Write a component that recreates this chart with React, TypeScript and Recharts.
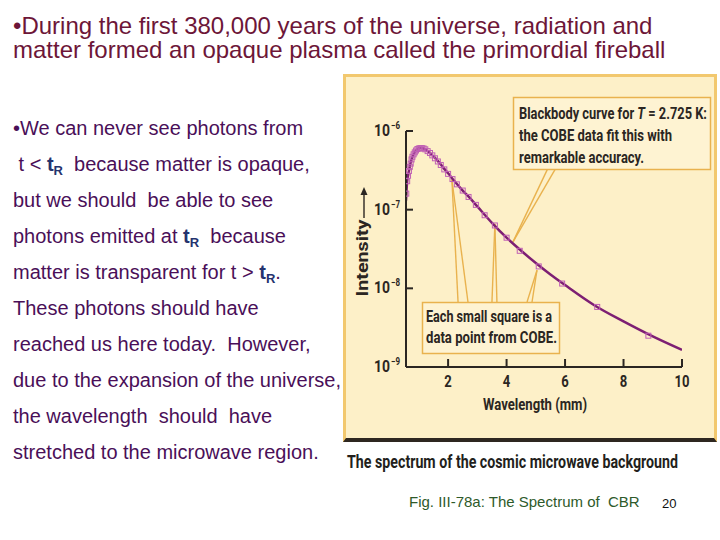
import React from "react";
import { ComposedChart, Line, Scatter, XAxis, YAxis, ReferenceLine } from "recharts";

// blackbody fit curve (wavelength in mm, intensity)
const curveMm = [0.56, 0.58, 0.6, 0.63, 0.66, 0.7, 0.75, 0.8, 0.85, 0.9, 0.95, 1.0, 1.05, 1.1, 1.16, 1.22, 1.3, 1.4, 1.5, 1.6, 1.75, 1.9, 2.0, 2.2, 2.5, 2.75, 3.0, 3.5, 4.0, 4.5, 5.0, 5.5, 6.0, 7.0, 8.0, 9.0, 10.0];
const curveIntensity = [1.3e-7, 1.8e-7, 2.3e-7, 2.7e-7, 3.1e-7, 3.7e-7, 4.35e-7, 4.9e-7, 5.3e-7, 5.65e-7, 5.9e-7, 6.0e-7, 6.06e-7, 6.07e-7, 6.0e-7, 5.85e-7, 5.55e-7, 5.15e-7, 4.75e-7, 4.35e-7, 3.75e-7, 3.2e-7, 2.9e-7, 2.35e-7, 1.75e-7, 1.4e-7, 1.1e-7, 6.8e-8, 4.4e-8, 3.0e-8, 2.1e-8, 1.5e-8, 1.1e-8, 6.1e-9, 3.8e-9, 2.45e-9, 1.65e-9];

// COBE measurements (small squares)
const cobeMm = [0.57, 0.6, 0.63, 0.66, 0.69, 0.72, 0.75, 0.78, 0.82, 0.86, 0.9, 0.95, 1.0, 1.05, 1.1, 1.16, 1.22, 1.3, 1.38, 1.46, 1.55, 1.65, 1.75, 1.87, 2.0, 2.15, 2.3, 2.5, 2.7, 2.95, 3.25, 3.6, 4.0, 4.45, 5.1, 5.9, 7.1, 8.85];
const cobeIntensity = [1.6e-7, 2.3e-7, 2.7e-7, 3.1e-7, 3.5e-7, 3.85e-7, 4.35e-7, 4.7e-7, 5.05e-7, 5.35e-7, 5.65e-7, 5.9e-7, 6.0e-7, 6.06e-7, 6.07e-7, 6.0e-7, 5.85e-7, 5.55e-7, 5.25e-7, 4.9e-7, 4.5e-7, 4.1e-7, 3.7e-7, 3.25e-7, 2.85e-7, 2.45e-7, 2.1e-7, 1.75e-7, 1.45e-7, 1.15e-7, 8.5e-8, 6.3e-8, 4.4e-8, 3.0e-8, 1.9e-8, 1.15e-8, 5.8e-9, 2.5e-9];

const xTicks = [2, 4, 6, 8, 10];
const yTicks = [1e-9, 1e-8, 1e-7, 1e-6];
const yTickExp = ["−9", "−8", "−7", "−6"];

const curve = curveMm.map((x, i) => ({ x, y: curveIntensity[i] }));
const cobe = cobeMm.map((x, i) => ({ x, y: cobeIntensity[i] }));

const narrow = "Roboto, 'Open Sans', sans-serif";
const inkDark = "#2b2622";
const callout = "#e9b24e";

// callout pointers (data coordinates)
const topBoxY = 3.4e-7;
const bottomBoxY = 6.7e-9;
const pointers = [
  [{ x: 5.42, y: topBoxY }, { x: 4.22, y: 3.9e-8 }],
  [{ x: 5.69, y: topBoxY }, { x: 4.22, y: 3.9e-8 }],
  [{ x: 2.34, y: bottomBoxY }, { x: 2.13, y: 2.4e-7 }],
  [{ x: 2.68, y: bottomBoxY }, { x: 2.13, y: 2.4e-7 }],
  [{ x: 3.5, y: bottomBoxY }, { x: 3.6, y: 6.6e-8 }],
  [{ x: 3.67, y: bottomBoxY }, { x: 3.6, y: 6.6e-8 }],
  [{ x: 4.7, y: bottomBoxY }, { x: 5.04, y: 1.7e-8 }],
  [{ x: 4.87, y: bottomBoxY }, { x: 5.04, y: 1.7e-8 }],
];

const YTick = (props: any) => {
  const { x, y, index } = props;
  return (
    <g fontFamily={narrow} fontWeight="bold" fill={inkDark}>
      <line x1={x + 7} y1={y} x2={x + 14} y2={y} stroke={inkDark} strokeWidth={2} />
      <text x={x - 25} y={y + 5} fontSize={16} textLength={16} lengthAdjust="spacingAndGlyphs">
        10
      </text>
      <text x={x - 8} y={y - 2} fontSize={10} textLength={9} lengthAdjust="spacingAndGlyphs">
        {yTickExp[index]}
      </text>
    </g>
  );
};

const XTick = (props: any) => {
  const { x, y, payload } = props;
  const label = String(payload.value);
  return (
    <g>
      <line x1={x} y1={y - 6} x2={x} y2={y - 14} stroke={inkDark} strokeWidth={2} />
      <text
        x={x}
        y={y + 14}
        textAnchor="middle"
        fontFamily={narrow}
        fontWeight="bold"
        fontSize={16}
        fill={inkDark}
        textLength={label.length * 7.5}
        lengthAdjust="spacingAndGlyphs"
      >
        {label}
      </text>
    </g>
  );
};

const Square = (props: any) => {
  const { cx, cy } = props;
  if (cx == null || cy == null) return null;
  return <rect x={cx - 2.5} y={cy - 2.5} width={5} height={5} fill="none" stroke="#c060b4" strokeWidth={1} />;
};

const abs = (left: number, top: number, extra: React.CSSProperties = {}): React.CSSProperties => ({
  position: "absolute",
  left,
  top,
  whiteSpace: "pre",
  ...extra,
});

const body: React.CSSProperties = { fontFamily: "'Liberation Sans', Arial, sans-serif", fontSize: 20, color: "#4a0f58", lineHeight: "24px" };
const tR = (
  <b style={{ color: "#25336e" }}>
    t<sub style={{ fontSize: 13, verticalAlign: "-4px" }}>R</sub>
  </b>
);

const paragraph: React.ReactNode[] = [
  "•We can never see photons from",
  <> t {"<"} {tR}  because matter is opaque,</>,
  "but we should  be able to see",
  <>photons emitted at {tR}  because</>,
  <>matter is transparent for t {">"} {tR}.</>,
  "These photons should have",
  "reached us here today.  However,",
  "due to the expansion of the universe,",
  "the wavelength  should  have",
  "stretched to the microwave region.",
];

// condensed bold text: squeezed horizontally, stretched back to the measured width
const Squeezed = ({ x, y, w, size, s = 0.78, fill = inkDark, children }: { x: number; y: number; w: number; size: number; s?: number; fill?: string; children: React.ReactNode }) => (
  <text
    transform={`translate(${x},${y}) scale(${s},1)`}
    fontFamily={narrow}
    fontWeight="bold"
    fontSize={size}
    fill={fill}
    textLength={w / s}
    lengthAdjust="spacingAndGlyphs"
  >
    {children}
  </text>
);

export default function App() {
  return (
    <div style={{ position: "absolute", left: 0, top: 0, width: 720, height: 540, background: "#fff", overflow: "hidden" }}>
      <div style={abs(13, 14, { fontFamily: "'Liberation Sans', Arial, sans-serif", fontSize: 24, lineHeight: "24px", color: "#6d1638" })}>
        {"•During the first 380,000 years of the universe, radiation and\nmatter formed an opaque plasma called the primordial fireball"}
      </div>

      {paragraph.map((line, i) => (
        <div key={i} style={abs(13, 116 + i * 36, body)}>
          {line}
        </div>
      ))}

      {/* figure panel */}
      <div
        style={abs(343, 74, {
          width: 368,
          height: 361,
          background: "#fdf0c8",
          borderTop: "3px solid #f2c86e",
          borderLeft: "3px solid #f2c86e",
          borderRight: "3px solid #f2c86e",
          borderBottom: "4px solid #2e2720",
        })}
      />

      <div style={abs(345, 76)}>
        <ComposedChart width={372} height={364} margin={{ top: 55, right: 35, left: 0, bottom: 0 }}>
          <XAxis
            dataKey="x"
            type="number"
            domain={[0.56, 10]}
            ticks={xTicks}
            allowDataOverflow
            height={73}
            tickSize={0}
            tickMargin={6}
            tick={<XTick />}
            axisLine={{ stroke: inkDark, strokeWidth: 2 }}
          />
          <YAxis
            dataKey="y"
            type="number"
            scale="log"
            domain={[1e-9, 1e-6]}
            ticks={yTicks}
            allowDataOverflow
            width={61}
            tickSize={0}
            tickMargin={7}
            tick={<YTick />}
            axisLine={{ stroke: inkDark, strokeWidth: 2 }}
          />
          {pointers.map((seg, i) => (
            <ReferenceLine key={i} segment={seg} stroke={callout} strokeWidth={1.4} ifOverflow="visible" />
          ))}
          <Line data={curve} dataKey="y" type="monotone" stroke="#7d1f73" strokeWidth={2.5} dot={false} isAnimationActive={false} />
          <Scatter data={cobe} dataKey="y" shape={<Square />} isAnimationActive={false} />
        </ComposedChart>
      </div>

      {/* figure labels and callouts */}
      <svg style={abs(0, 0, { pointerEvents: "none" })} width={720} height={540}>
        <text
          transform="translate(368,258) rotate(-90)"
          textAnchor="middle"
          fontFamily={narrow}
          fontWeight="bold"
          fontSize={16}
          fill={inkDark}
          textLength={77}
          lengthAdjust="spacingAndGlyphs"
        >
          Intensity
        </text>
        <line x1={364} y1={218} x2={364} y2={193} stroke={inkDark} strokeWidth={1.4} />
        <path d="M360.5,195 L364,187 L367.5,195 Z" fill={inkDark} />

        <Squeezed x={483} y={410} w={104} size={16} s={0.82}>Wavelength (mm)</Squeezed>

        <rect x={513.5} y={97.5} width={197} height={72} fill="#fef3d2" stroke={callout} strokeWidth={1.5} />
        <Squeezed x={519} y={119} w={188} size={17}>
          Blackbody curve for <tspan fontStyle="italic">T</tspan> = 2.725 K:
        </Squeezed>
        <Squeezed x={519} y={141} w={153} size={17}>the COBE data fit this with</Squeezed>
        <Squeezed x={519} y={163} w={125} size={17}>remarkable accuracy.</Squeezed>

        <rect x={422.5} y={302.5} width={137} height={51} fill="#fef3d2" stroke={callout} strokeWidth={1.5} />
        <Squeezed x={426} y={322} w={126} size={16}>Each small square is a</Squeezed>
        <Squeezed x={426} y={343} w={131} size={16}>data point from COBE.</Squeezed>

        <Squeezed x={347} y={468} w={331} size={18} s={0.79} fill="#231f1c">
          The spectrum of the cosmic microwave background
        </Squeezed>
      </svg>

      <div style={abs(409, 493, { fontFamily: "'Liberation Sans', Arial, sans-serif", fontSize: 15, color: "#2e5a2a" })}>
        {"Fig. III-78a: The Spectrum of  CBR"}
      </div>
      <div style={abs(662, 496, { fontFamily: "'Liberation Sans', Arial, sans-serif", fontSize: 13, color: "#111" })}>
        20
      </div>
    </div>
  );
}
